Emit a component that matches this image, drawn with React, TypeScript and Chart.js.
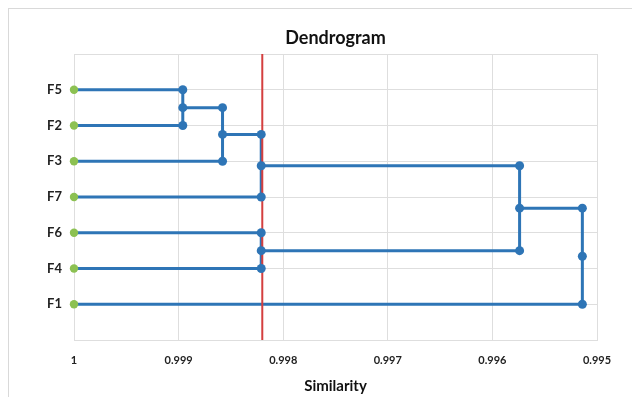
import React, { useEffect, useRef } from 'react';
import { Chart, registerables } from 'chart.js';

Chart.register(...registerables);

// Leaves, top to bottom
const leafLabels = ['F5', 'F2', 'F3', 'F7', 'F6', 'F4', 'F1'];
// Merge steps: cluster Ck is the result of merge k (1-based)
const mergeLeft = ['F5', 'C1', 'C2', 'F6', 'C3', 'C5'];
const mergeRight = ['F2', 'F3', 'F7', 'F4', 'C4', 'F1'];
const mergeSimilarity = [0.99896, 0.99858, 0.99821, 0.99821, 0.99574, 0.99514];
// Cut line
const cutSimilarity = 0.9982;
// X axis
const xMin = 0.995;
const xMax = 1;
const xStep = 0.001;

const FONT = 'Lato, "Open Sans", sans-serif';
const BLUE = '#2E75B6';
const GREEN = '#8CC152';
const RED = '#D43F3F';
const GRID = '#DEDEDE';

export default function App() {
  const ref = useRef<HTMLCanvasElement>(null);

  useEffect(() => {
    if (!ref.current) return;
    const pos: Record<string, { x: number; y: number }> = {};
    leafLabels.forEach((l, i) => {
      pos[l] = { x: xMax, y: leafLabels.length - i };
    });
    const lineSets: any[] = [];
    const bluePts: { x: number; y: number }[] = [];
    mergeSimilarity.forEach((s, i) => {
      const a = pos[mergeLeft[i]];
      const b = pos[mergeRight[i]];
      const mid = (a.y + b.y) / 2;
      lineSets.push({
        label: 'link' + (i + 1),
        data: [
          { x: a.x, y: a.y },
          { x: s, y: a.y },
          { x: s, y: b.y },
          { x: b.x, y: b.y },
        ],
        showLine: true,
        borderColor: BLUE,
        borderWidth: 3,
        pointRadius: 0,
        pointHoverRadius: 0,
        clip: false,
      });
      bluePts.push({ x: s, y: a.y }, { x: s, y: mid }, { x: s, y: b.y });
      pos['C' + (i + 1)] = { x: s, y: mid };
    });
    const leafPts = leafLabels.map((l) => ({ x: pos[l].x, y: pos[l].y }));

    const datasets: any[] = [
      {
        label: 'leaves',
        data: leafPts,
        pointRadius: 4.2,
        pointBackgroundColor: GREEN,
        pointBorderColor: GREEN,
        pointBorderWidth: 0,
        showLine: false,
        clip: false,
      },
      {
        label: 'nodes',
        data: bluePts,
        pointRadius: 4.5,
        pointBackgroundColor: BLUE,
        pointBorderColor: BLUE,
        pointBorderWidth: 0,
        showLine: false,
        clip: false,
      },
      {
        label: 'cut',
        data: [
          { x: cutSimilarity, y: 0 },
          { x: cutSimilarity, y: leafLabels.length + 1 },
        ],
        showLine: true,
        borderColor: RED,
        borderWidth: 2,
        pointRadius: 0,
        clip: false,
      },
      ...lineSets,
    ];

    const chart = new Chart(ref.current, {
      type: 'scatter',
      data: { datasets },
      options: {
        animation: false,
        responsive: false,
        devicePixelRatio: 1,
        layout: { padding: { left: 0, right: 35, top: 0, bottom: 0 } },
        plugins: {
          legend: { display: false },
          tooltip: { enabled: false },
          title: {
            display: true,
            text: 'Dendrogram',
            fullSize: false,
            color: '#111',
            font: { family: FONT, size: 18, weight: 'bold' },
            padding: { top: 18, bottom: 5.4 },
          },
        },
        scales: {
          x: {
            type: 'linear',
            reverse: true,
            min: xMin,
            max: xMax,
            afterFit: (s: any) => {
              s.height = 57;
            },
            ticks: {
              stepSize: xStep,
              padding: 14,
              color: '#222',
              font: { family: FONT, size: 11, weight: 'bold' },
              callback: (v: any) => String(Number(Number(v).toFixed(3))),
            },
            grid: { color: GRID, lineWidth: 1, drawTicks: false },
            border: { color: GRID, width: 1 },
            title: {
              display: true,
              text: 'Similarity',
              color: '#111',
              font: { family: FONT, size: 15, weight: 'bold' },
              padding: { top: 2, bottom: 2 },
            },
          },
          y: {
            type: 'linear',
            min: 0,
            max: leafLabels.length + 1,
            afterFit: (s: any) => {
              s.width = 65;
            },
            ticks: {
              stepSize: 1,
              padding: 12,
              color: '#222',
              font: { family: FONT, size: 13, weight: 'bold' },
              callback: (v: any) => {
                const i = leafLabels.length - Number(v);
                return Number.isInteger(Number(v)) && i >= 0 && i < leafLabels.length ? leafLabels[i] : '';
              },
            },
            grid: { color: GRID, lineWidth: 1, drawTicks: false },
            border: { color: GRID, width: 1 },
          },
        },
      },
    });
    return () => chart.destroy();
  }, []);

  return (
    <div
      style={{
        width: 624,
        height: 389,
        boxSizing: 'border-box',
        borderTop: '1px solid #D9D9D9',
        borderLeft: '1px solid #D9D9D9',
        background: '#fff',
      }}
    >
      <canvas ref={ref} width={623} height={388} style={{ display: 'block' }} />
    </div>
  );
}
